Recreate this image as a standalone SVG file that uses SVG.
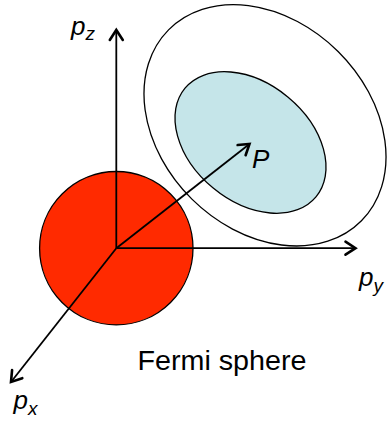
<svg xmlns="http://www.w3.org/2000/svg" width="387" height="423" viewBox="0 0 387 423">
<style>
.ax{stroke:#000;stroke-width:1.8;fill:none}
.lbl{font-family:"Liberation Sans",Arial,sans-serif;font-style:italic;font-size:26px;fill:#000}
.sub{font-size:19px}
.txt{font-family:"Liberation Sans",Arial,sans-serif;font-size:27px;fill:#000}
</style>
<defs>
<marker id="arr" markerUnits="userSpaceOnUse" markerWidth="20" markerHeight="20" viewBox="-14 -10 20 20" refX="0" refY="0" orient="auto">
<path d="M-10,-6.5 L0,0 L-10,6.5" fill="none" stroke="#000" stroke-width="2.6" stroke-linecap="round" stroke-linejoin="miter"/>
</marker>
</defs>
<g id="outer-region">
<ellipse cx="265" cy="125.3" rx="135.7" ry="103.9" transform="rotate(44.7 265 125.3)" fill="#fff" stroke="#000" stroke-width="1.3"/>
</g>
<g id="inner-region">
<ellipse cx="250.5" cy="142.5" rx="85.1" ry="58.9" transform="rotate(39.7 250.5 142.5)" fill="#C5E5E9" stroke="#000" stroke-width="1.3"/>
</g>
<g id="fermi-sphere">
<circle cx="116.3" cy="248.2" r="76.7" fill="#FF2A00" stroke="#000" stroke-width="1.3"/>
</g>
<g id="connectors">
<line class="ax" x1="116.3" y1="248.2" x2="116.3" y2="30" marker-end="url(#arr)"/>
<line class="ax" x1="116.3" y1="248.2" x2="355.5" y2="248.2" marker-end="url(#arr)"/>
<line class="ax" x1="116.3" y1="248.2" x2="11" y2="382" marker-end="url(#arr)"/>
<line class="ax" x1="116.3" y1="248.2" x2="249.5" y2="144" marker-end="url(#arr)"/>
</g>
<g id="labels">
<text class="lbl" x="71" y="34.5">p<tspan class="sub" dy="5">z</tspan></text>
<text class="lbl" x="359" y="285.5">p<tspan class="sub" dy="6">y</tspan></text>
<text class="lbl" x="13.5" y="408.5">p<tspan class="sub" dy="6">x</tspan></text>
<text class="lbl" x="252" y="168" font-size="27">P</text>
<text class="txt" x="137.5" y="369.5" textLength="169" lengthAdjust="spacingAndGlyphs">Fermi sphere</text>
</g>
</svg>
